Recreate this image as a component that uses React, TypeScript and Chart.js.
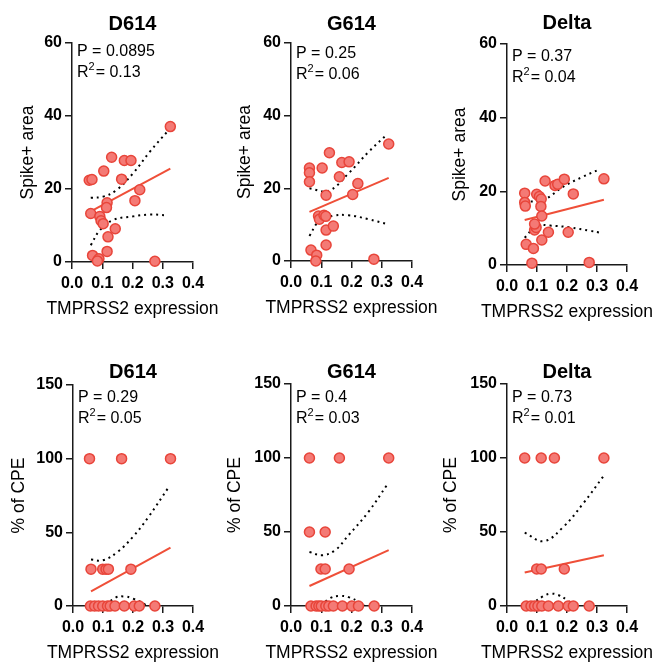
import React, { useEffect, useRef } from "react";
import { Chart, registerables } from "chart.js";

Chart.register(...registerables);

const FONT = '"Liberation Sans", Arial, Helvetica, sans-serif';
const X_TICK_VALUES = [0, 0.1, 0.2, 0.3, 0.4];
const X_LABEL = "TMPRSS2 expression";

// ---------- D614 / Spike+ area ----------
const D614_SPIKE_X = [0.057, 0.066, 0.062, 0.068, 0.089, 0.084, 0.092, 0.096, 0.103, 0.105, 0.116, 0.114, 0.119, 0.116, 0.131, 0.143, 0.164, 0.173, 0.195, 0.208, 0.224, 0.274, 0.325];
const D614_SPIKE_Y = [22.4, 22.6, 13.3, 1.8, 0.9, 0.3, 12.5, 11.3, 10.5, 24.9, 16.2, 14.9, 6.9, 2.9, 28.7, 9.1, 22.7, 27.8, 27.8, 16.8, 19.8, 0.2, 37.1];
const D614_SPIKE_FIT_X = [0.062, 0.325];
const D614_SPIKE_FIT_Y = [13.9, 25.6];
const D614_SPIKE_UP_X = [0.062, 0.103, 0.147, 0.202, 0.257, 0.318];
const D614_SPIKE_UP_Y = [17.6, 17.9, 19.7, 24.3, 30.2, 36.0];
const D614_SPIKE_LO_X = [0.062, 0.092, 0.136, 0.202, 0.257, 0.312];
const D614_SPIKE_LO_Y = [4.6, 8.7, 11.5, 12.5, 13.0, 12.8];

// ---------- G614 / Spike+ area ----------
const G614_SPIKE_X = [0.061, 0.061, 0.061, 0.066, 0.085, 0.082, 0.091, 0.094, 0.103, 0.109, 0.115, 0.116, 0.116, 0.116, 0.127, 0.140, 0.160, 0.168, 0.192, 0.204, 0.221, 0.274, 0.323];
const G614_SPIKE_Y = [25.6, 24.3, 21.8, 3.0, 1.6, 0.0, 12.4, 11.5, 25.6, 12.6, 12.3, 18.1, 8.5, 4.4, 29.8, 9.6, 23.2, 27.1, 27.3, 18.3, 21.3, 0.5, 32.2];
const G614_SPIKE_FIT_X = [0.061, 0.323];
const G614_SPIKE_FIT_Y = [13.5, 22.9];
const G614_SPIKE_UP_X = [0.061, 0.124, 0.19, 0.256, 0.317];
const G614_SPIKE_UP_Y = [20.0, 19.3, 24.1, 30.0, 34.8];
const G614_SPIKE_LO_X = [0.061, 0.091, 0.135, 0.19, 0.256, 0.317];
const G614_SPIKE_LO_Y = [6.9, 10.8, 12.4, 12.6, 11.5, 10.2];

// ---------- Delta / Spike+ area ----------
const DELTA_SPIKE_X = [0.059, 0.059, 0.061, 0.064, 0.083, 0.088, 0.092, 0.097, 0.092, 0.099, 0.108, 0.114, 0.113, 0.116, 0.116, 0.127, 0.138, 0.160, 0.169, 0.191, 0.204, 0.221, 0.274, 0.323];
const DELTA_SPIKE_Y = [19.5, 17.0, 16.0, 5.6, 0.5, 4.5, 9.5, 10.2, 11.1, 19.2, 18.6, 17.9, 15.9, 13.3, 6.8, 22.8, 8.9, 21.6, 21.9, 23.3, 8.9, 19.3, 0.7, 23.4];
const DELTA_SPIKE_FIT_X = [0.059, 0.323];
const DELTA_SPIKE_FIT_Y = [12.2, 17.7];
const DELTA_SPIKE_UP_X = [0.059, 0.122, 0.188, 0.254, 0.309];
const DELTA_SPIKE_UP_Y = [17.2, 17.7, 21.3, 24.0, 26.0];
const DELTA_SPIKE_LO_X = [0.059, 0.099, 0.144, 0.21, 0.276, 0.309];
const DELTA_SPIKE_LO_Y = [7.4, 10.6, 10.7, 10.2, 9.3, 8.8];

// ---------- D614 / % of CPE ----------
const D614_CPE_X = [0.055, 0.162, 0.325, 0.060, 0.099, 0.110, 0.118, 0.193, 0.058, 0.072, 0.085, 0.099, 0.115, 0.124, 0.140, 0.171, 0.204, 0.221, 0.273];
const D614_CPE_Y = [100, 100, 100, 25, 25, 25, 25, 25, 0, 0, 0, 0, 0, 0, 0, 0, 0, 0, 0];
const D614_CPE_FIT_X = [0.060, 0.325];
const D614_CPE_FIT_Y = [10.0, 39.7];
const D614_CPE_UP_X = [0.060, 0.10, 0.15, 0.20, 0.25, 0.32];
const D614_CPE_UP_Y = [31.5, 31.0, 37.0, 47.0, 60.0, 81.0];
const D614_CPE_LO_X = [0.060, 0.10, 0.14, 0.17, 0.20, 0.24, 0.28, 0.325];
const D614_CPE_LO_Y = [-12, -2, 5.5, 6.5, 5.0, 1.0, -6, -15];

// ---------- G614 / % of CPE ----------
const G614_CPE_X = [0.061, 0.160, 0.323, 0.061, 0.113, 0.099, 0.113, 0.192, 0.066, 0.083, 0.092, 0.100, 0.115, 0.125, 0.140, 0.170, 0.201, 0.223, 0.275];
const G614_CPE_Y = [100, 100, 100, 50, 50, 25, 25, 25, 0, 0, 0, 0, 0, 0, 0, 0, 0, 0, 0];
const G614_CPE_FIT_X = [0.061, 0.323];
const G614_CPE_FIT_Y = [13.5, 37.7];
const G614_CPE_UP_X = [0.061, 0.102, 0.146, 0.19, 0.256, 0.317];
const G614_CPE_UP_Y = [36.5, 34.3, 37.7, 47.8, 63.6, 81.7];
const G614_CPE_LO_X = [0.061, 0.10, 0.13, 0.16, 0.19, 0.23, 0.27, 0.323];
const G614_CPE_LO_Y = [-9, 0, 5.4, 6.8, 6.0, 2.0, -5, -15];

// ---------- Delta / % of CPE ----------
const DELTA_CPE_X = [0.059, 0.114, 0.158, 0.323, 0.099, 0.114, 0.191, 0.064, 0.080, 0.092, 0.103, 0.116, 0.138, 0.171, 0.204, 0.221, 0.274];
const DELTA_CPE_Y = [100, 100, 100, 100, 25, 25, 25, 0, 0, 0, 0, 0, 0, 0, 0, 0, 0];
const DELTA_CPE_FIT_X = [0.059, 0.323];
const DELTA_CPE_FIT_Y = [22.6, 34.3];
const DELTA_CPE_UP_X = [0.059, 0.122, 0.188, 0.254, 0.32];
const DELTA_CPE_UP_Y = [49.6, 43.8, 53.5, 69.3, 87.3];
const DELTA_CPE_LO_X = [0.06, 0.09, 0.12, 0.145, 0.17, 0.20, 0.25, 0.323];
const DELTA_CPE_LO_Y = [-6, 2, 6.5, 8.3, 7.5, 4.0, -4, -15];

// ---------- axis ranges / texts ----------
const SPIKE_Y_MAX = 60;
const SPIKE_Y_STEP = 20;
const CPE_Y_MAX = 150;
const CPE_Y_STEP = 50;

const zip = (xs: number[], ys: number[]) => xs.map((x, i) => ({ x, y: ys[i] }));

type PanelCfg = {
  title: string;
  yLabel: string;
  pText: string;
  r2Text: string;
  xs: number[]; ys: number[];
  fitX: number[]; fitY: number[];
  upX: number[]; upY: number[];
  loX: number[]; loY: number[];
  yMax: number; yStep: number;
  // layout
  left: number; top: number; yw: number; plotW: number; padTop: number; plotH: number; xh: number;
  titleBase: number; pOff: number; yTitleOff: number;
};

const PANELS: PanelCfg[] = [
  { title: "D614", yLabel: "Spike+ area", pText: "P = 0.0895", r2Text: "0.13",
    xs: D614_SPIKE_X, ys: D614_SPIKE_Y, fitX: D614_SPIKE_FIT_X, fitY: D614_SPIKE_FIT_Y,
    upX: D614_SPIKE_UP_X, upY: D614_SPIKE_UP_Y, loX: D614_SPIKE_LO_X, loY: D614_SPIKE_LO_Y,
    yMax: SPIKE_Y_MAX, yStep: SPIKE_Y_STEP,
    left: 0, top: 0, yw: 72, plotW: 121, padTop: 43, plotH: 219, xh: 68, titleBase: 30, pOff: 13, yTitleOff: 39 },
  { title: "G614", yLabel: "Spike+ area", pText: "P = 0.25", r2Text: "0.06",
    xs: G614_SPIKE_X, ys: G614_SPIKE_Y, fitX: G614_SPIKE_FIT_X, fitY: G614_SPIKE_FIT_Y,
    upX: G614_SPIKE_UP_X, upY: G614_SPIKE_UP_Y, loX: G614_SPIKE_LO_X, loY: G614_SPIKE_LO_Y,
    yMax: SPIKE_Y_MAX, yStep: SPIKE_Y_STEP,
    left: 215, top: 0, yw: 76, plotW: 121, padTop: 43, plotH: 218, xh: 69, titleBase: 30, pOff: 15, yTitleOff: 41 },
  { title: "Delta", yLabel: "Spike+ area", pText: "P = 0.37", r2Text: "0.04",
    xs: DELTA_SPIKE_X, ys: DELTA_SPIKE_Y, fitX: DELTA_SPIKE_FIT_X, fitY: DELTA_SPIKE_FIT_Y,
    upX: DELTA_SPIKE_UP_X, upY: DELTA_SPIKE_UP_Y, loX: DELTA_SPIKE_LO_X, loY: DELTA_SPIKE_LO_Y,
    yMax: SPIKE_Y_MAX, yStep: SPIKE_Y_STEP,
    left: 430, top: 0, yw: 77, plotW: 120, padTop: 44, plotH: 221, xh: 65, titleBase: 29, pOff: 17, yTitleOff: 42 },
  { title: "D614", yLabel: "% of CPE", pText: "P = 0.29", r2Text: "0.05",
    xs: D614_CPE_X, ys: D614_CPE_Y, fitX: D614_CPE_FIT_X, fitY: D614_CPE_FIT_Y,
    upX: D614_CPE_UP_X, upY: D614_CPE_UP_Y, loX: D614_CPE_LO_X, loY: D614_CPE_LO_Y,
    yMax: CPE_Y_MAX, yStep: CPE_Y_STEP,
    left: 0, top: 330, yw: 73, plotW: 120, padTop: 55, plotH: 221, xh: 56, titleBase: 48, pOff: 17, yTitleOff: 49 },
  { title: "G614", yLabel: "% of CPE", pText: "P = 0.4", r2Text: "0.03",
    xs: G614_CPE_X, ys: G614_CPE_Y, fitX: G614_CPE_FIT_X, fitY: G614_CPE_FIT_Y,
    upX: G614_CPE_UP_X, upY: G614_CPE_UP_Y, loX: G614_CPE_LO_X, loY: G614_CPE_LO_Y,
    yMax: CPE_Y_MAX, yStep: CPE_Y_STEP,
    left: 215, top: 330, yw: 76, plotW: 121, padTop: 54, plotH: 222, xh: 56, titleBase: 48, pOff: 18, yTitleOff: 51 },
  { title: "Delta", yLabel: "% of CPE", pText: "P = 0.73", r2Text: "0.01",
    xs: DELTA_CPE_X, ys: DELTA_CPE_Y, fitX: DELTA_CPE_FIT_X, fitY: DELTA_CPE_FIT_Y,
    upX: DELTA_CPE_UP_X, upY: DELTA_CPE_UP_Y, loX: DELTA_CPE_LO_X, loY: DELTA_CPE_LO_Y,
    yMax: CPE_Y_MAX, yStep: CPE_Y_STEP,
    left: 430, top: 330, yw: 77, plotW: 120, padTop: 54, plotH: 222, xh: 56, titleBase: 48, pOff: 18, yTitleOff: 51 },
];

const RIGHT_PAD = 28;
const AXIS_COLOR = "#1a1a1a";
const POINT_FILL = "#F47A75";
const POINT_EDGE = "#E8453A";
const FIT_COLOR = "#EF4F38";

function Panel({ cfg }: { cfg: PanelCfg }) {
  const ref = useRef<HTMLCanvasElement>(null);
  const cw = cfg.yw + cfg.plotW + RIGHT_PAD;
  const ch = cfg.padTop + cfg.plotH + cfg.xh;

  useEffect(() => {
    const textPlugin = {
      id: "panelText",
      afterDraw(chart: any) {
        const { ctx, chartArea } = chart;
        const ca = chartArea;
        ctx.save();
        ctx.fillStyle = "#000";
        // title
        ctx.font = `bold 20px ${FONT}`;
        ctx.textAlign = "center";
        ctx.textBaseline = "alphabetic";
        ctx.fillText(cfg.title, (ca.left + ca.right) / 2, cfg.titleBase);
        // x title
        ctx.font = `17.5px ${FONT}`;
        ctx.fillText(X_LABEL, (ca.left + ca.right) / 2, ca.bottom + 52);
        // y title
        ctx.save();
        ctx.translate(ca.left - cfg.yTitleOff, (ca.top + ca.bottom) / 2);
        ctx.rotate(-Math.PI / 2);
        ctx.textAlign = "center";
        ctx.fillText(cfg.yLabel, 0, 0);
        ctx.restore();
        // annotations
        ctx.textAlign = "left";
        ctx.font = `16px ${FONT}`;
        const ax = ca.left + 5;
        const py = ca.top + cfg.pOff;
        ctx.fillText(cfg.pText, ax, py);
        const ry = py + 21;
        ctx.fillText("R", ax, ry);
        const wR = ctx.measureText("R").width;
        ctx.font = `11px ${FONT}`;
        ctx.fillText("2", ax + wR, ry - 7);
        const w2 = ctx.measureText("2").width;
        ctx.font = `16px ${FONT}`;
        ctx.fillText("= " + cfg.r2Text, ax + wR + w2 + 1, ry);
        ctx.restore();
      },
    };

    const chart = new Chart(ref.current as HTMLCanvasElement, {
      type: "scatter",
      data: {
        datasets: [
          {
            data: zip(cfg.xs, cfg.ys),
            pointRadius: 5,
            pointBorderWidth: 1.5,
            pointBackgroundColor: POINT_FILL,
            pointBorderColor: POINT_EDGE,
            showLine: false,
            clip: false,
          } as any,
          {
            data: zip(cfg.fitX, cfg.fitY),
            showLine: true,
            pointRadius: 0,
            borderColor: FIT_COLOR,
            borderWidth: 2,
          },
          {
            data: zip(cfg.upX, cfg.upY),
            showLine: true,
            pointRadius: 0,
            borderColor: "#000",
            borderWidth: 2,
            borderDash: [2, 4],
            tension: 0.4,
          },
          {
            data: zip(cfg.loX, cfg.loY),
            showLine: true,
            pointRadius: 0,
            borderColor: "#000",
            borderWidth: 2,
            borderDash: [2, 4],
            tension: 0.4,
          },
        ],
      },
      options: {
        responsive: false,
        animation: false,
        events: [],
        layout: { padding: { top: cfg.padTop, left: 0, right: RIGHT_PAD, bottom: 0 } },
        plugins: { legend: { display: false }, tooltip: { enabled: false }, title: { display: false } },
        scales: {
          x: {
            type: "linear",
            min: 0,
            max: 0.4,
            afterBuildTicks: (scale: any) => {
              scale.ticks = X_TICK_VALUES.map((v) => ({ value: v }));
            },
            afterFit: (scale: any) => {
              scale.height = cfg.xh;
            },
            ticks: {
              color: "#000",
              padding: 5,
              font: { family: FONT, size: 16, weight: "bold" },
              callback: (v: any) => Number(v).toFixed(1),
              maxRotation: 0,
              autoSkip: false,
            },
            grid: { display: true, drawOnChartArea: false, drawTicks: true, tickLength: 7, color: AXIS_COLOR, lineWidth: 1.5 },
            border: { display: true, color: AXIS_COLOR, width: 1.5 },
          },
          y: {
            type: "linear",
            min: 0,
            max: cfg.yMax,
            ticks: {
              stepSize: cfg.yStep,
              color: "#000",
              padding: 3,
              font: { family: FONT, size: 16, weight: "bold" },
            },
            afterFit: (scale: any) => {
              scale.width = cfg.yw;
            },
            grid: { display: true, drawOnChartArea: false, drawTicks: true, tickLength: 7, color: AXIS_COLOR, lineWidth: 1.5 },
            border: { display: true, color: AXIS_COLOR, width: 1.5 },
          },
        },
      } as any,
      plugins: [textPlugin],
    });
    return () => chart.destroy();
  }, []);

  return (
    <canvas
      ref={ref}
      width={cw}
      height={ch}
      style={{ position: "absolute", left: cfg.left, top: cfg.top, width: cw, height: ch }}
    />
  );
}

export default function App() {
  return (
    <div style={{ position: "fixed", left: 0, top: 0, width: 656, height: 662, background: "#fff", overflow: "hidden" }}>
      {PANELS.map((p, i) => (
        <Panel key={i} cfg={p} />
      ))}
    </div>
  );
}
